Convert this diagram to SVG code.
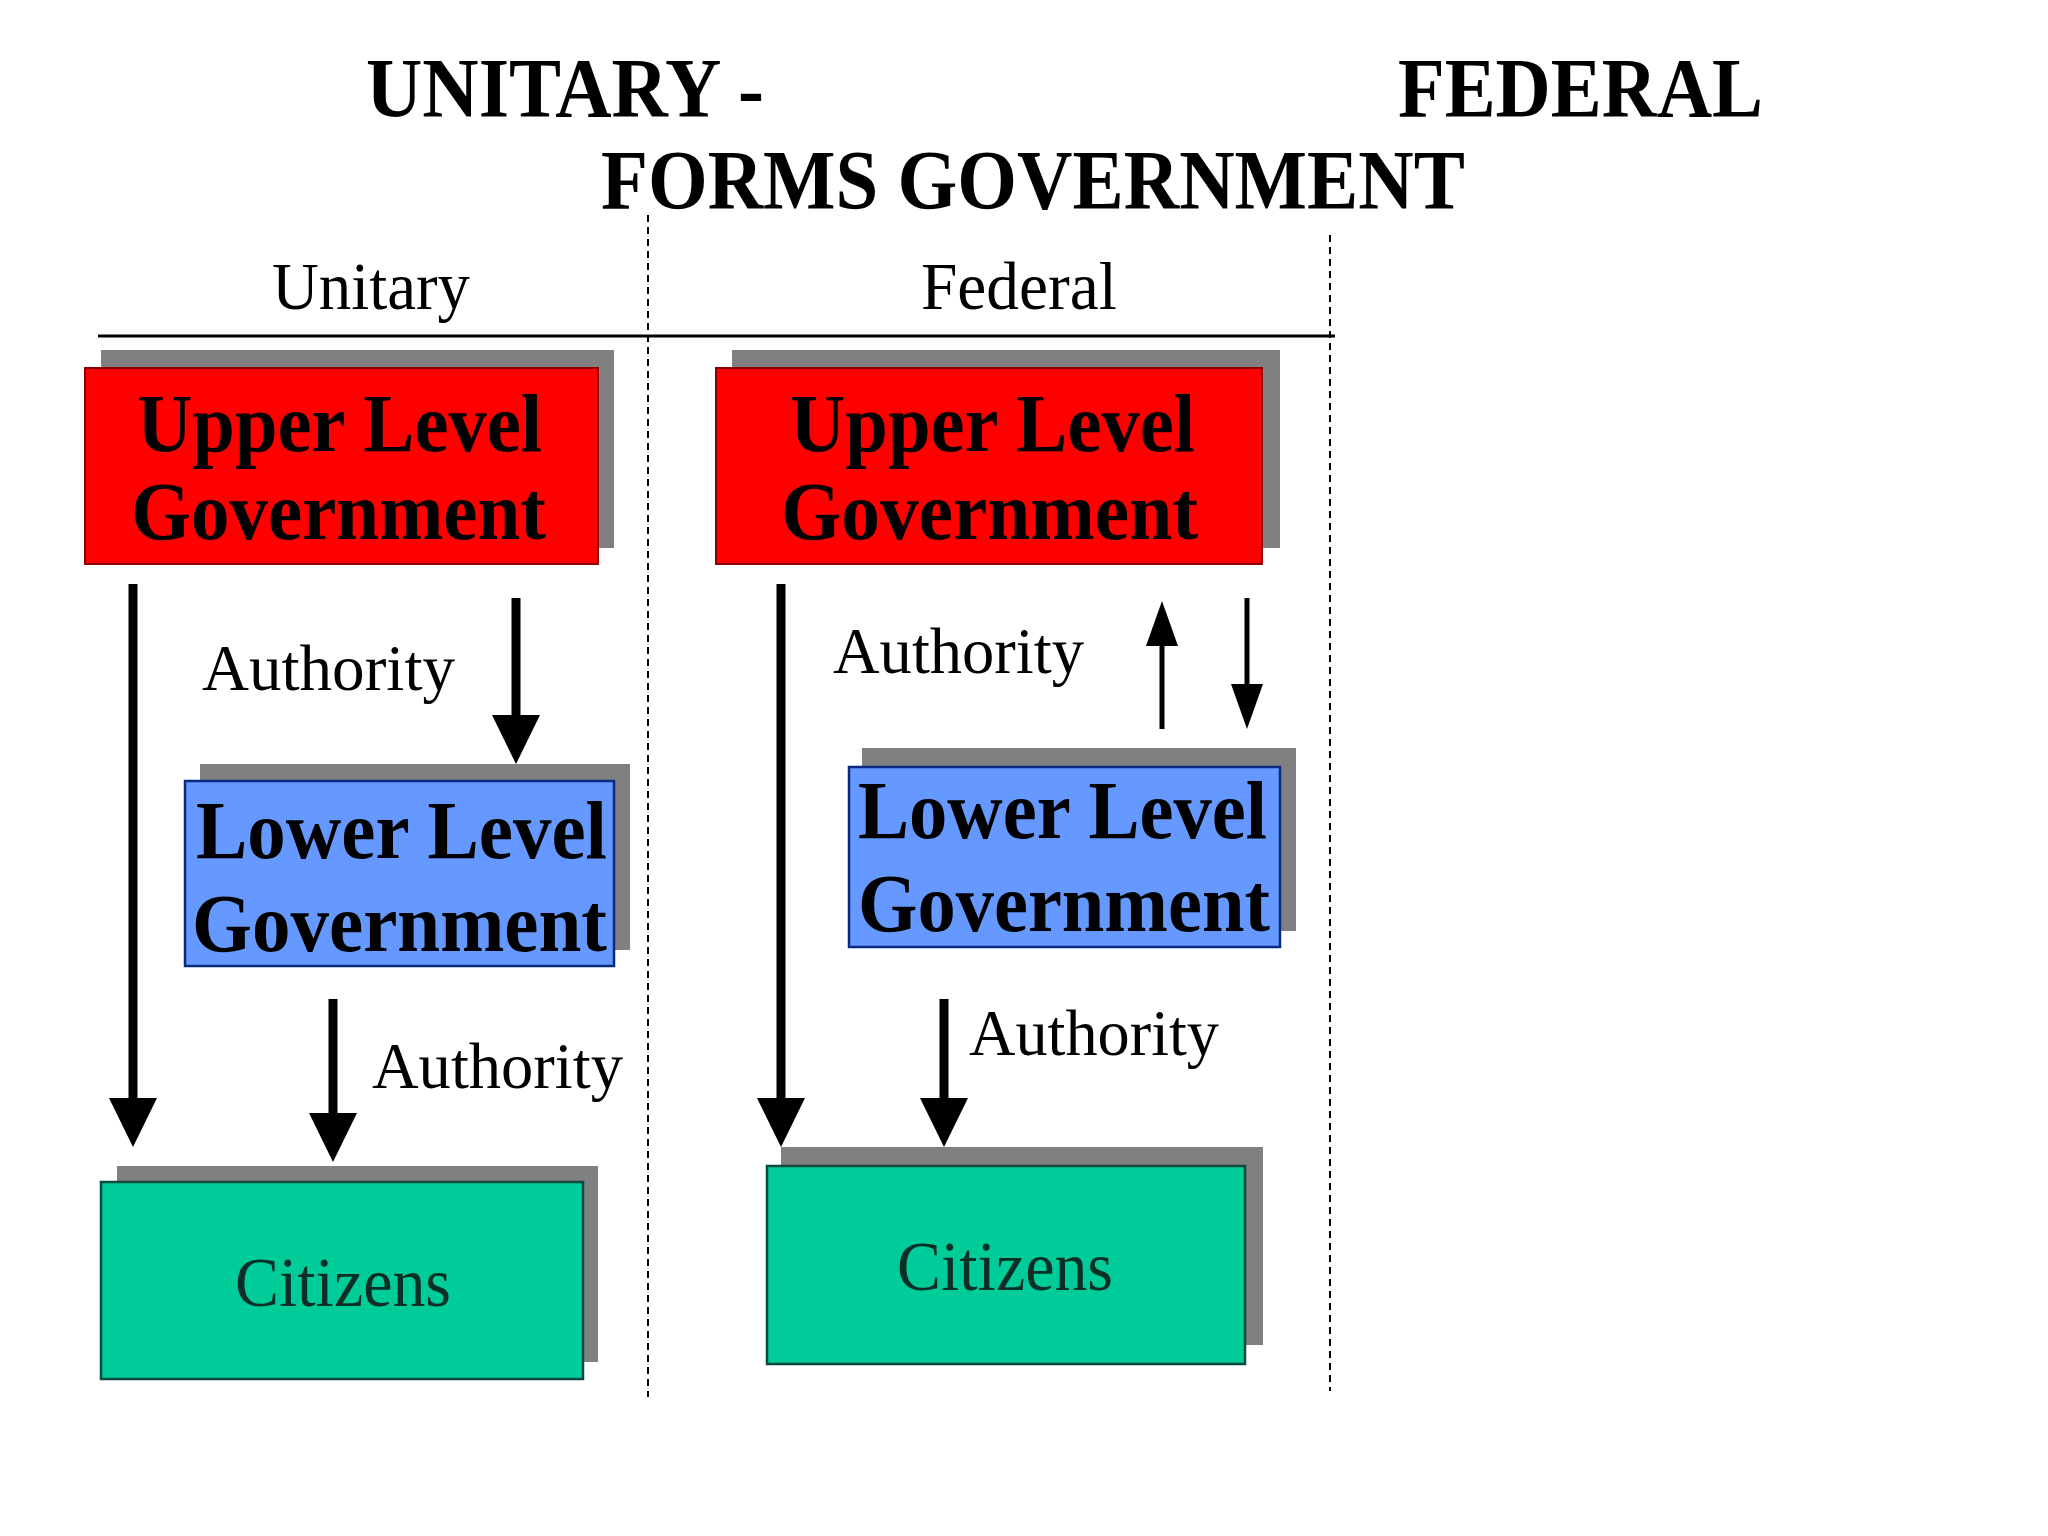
<svg xmlns="http://www.w3.org/2000/svg" width="2048" height="1536" viewBox="0 0 2048 1536">
<defs>
<style>
.title{font-family:"Liberation Serif","Times New Roman",serif;font-weight:bold;font-size:84px;fill:#000}
.col{font-family:"Liberation Serif","Times New Roman",serif;font-size:68px;fill:#000}
.box{font-family:"Liberation Serif","Times New Roman",serif;font-weight:bold;font-size:83px;fill:#000}
.lbl{font-family:"Liberation Serif","Times New Roman",serif;font-size:66px;fill:#000}
.cit{font-family:"Liberation Serif","Times New Roman",serif;font-size:70px;fill:#0b2e26}
.shadow{fill:#808080}
.red{fill:#ff0000;stroke:#8a0000;stroke-width:2}
.blue{fill:#6699ff;stroke:#0a2a80;stroke-width:2.5}
.green{fill:#00cc99;stroke:#0a4a40;stroke-width:2.5}
.thick{stroke:#000;stroke-width:9;fill:none}
.thin{stroke:#000;stroke-width:5;fill:none}
.dash{stroke:#000;stroke-width:2;stroke-dasharray:7 5;fill:none}
</style>
<marker id="big" markerUnits="userSpaceOnUse" viewBox="0 -25 50 50" refX="0" refY="0" markerWidth="50" markerHeight="50" orient="auto">
<path d="M0,-24 L49,0 L0,24 Z" fill="#000"/>
</marker>
<marker id="small" markerUnits="userSpaceOnUse" viewBox="0 -17 46 34" refX="0" refY="0" markerWidth="46" markerHeight="34" orient="auto">
<path d="M0,-16 L45,0 L0,16 Z" fill="#000"/>
</marker>
</defs>
<rect width="2048" height="1536" fill="#ffffff"/>

<g id="titles">
<text class="title" x="366" y="117" textLength="398" lengthAdjust="spacingAndGlyphs">UNITARY -</text>
<text class="title" x="1398" y="117" textLength="365" lengthAdjust="spacingAndGlyphs">FEDERAL</text>
<text class="title" x="601" y="209" textLength="864" lengthAdjust="spacingAndGlyphs">FORMS GOVERNMENT</text>
<text class="col" x="272" y="309" textLength="198" lengthAdjust="spacingAndGlyphs">Unitary</text>
<text class="col" x="921" y="309" textLength="196" lengthAdjust="spacingAndGlyphs">Federal</text>
</g>

<g id="frame">
<line x1="98" y1="336" x2="1335" y2="336" stroke="#000" stroke-width="3"/>
<line class="dash" x1="648" y1="215" x2="648" y2="1397"/>
<line class="dash" x1="1330" y1="235" x2="1330" y2="1391"/>
</g>

<g id="u-upper">
<rect class="shadow" x="101" y="350" width="513" height="198"/>
<rect class="red" x="85" y="368" width="513" height="196"/>
<text class="box" x="137" y="451" textLength="405" lengthAdjust="spacingAndGlyphs">Upper Level</text>
<text class="box" x="131" y="539" textLength="415" lengthAdjust="spacingAndGlyphs">Government</text>
</g>

<g id="u-lower">
<rect class="shadow" x="200" y="764" width="430" height="186"/>
<rect class="blue" x="185" y="781" width="429" height="185"/>
<text class="box" x="196" y="858" textLength="411" lengthAdjust="spacingAndGlyphs">Lower Level</text>
<text class="box" x="192" y="951" textLength="415" lengthAdjust="spacingAndGlyphs">Government</text>
</g>

<g id="u-citizens">
<rect class="shadow" x="117" y="1166" width="481" height="196"/>
<rect class="green" x="101" y="1182" width="482" height="197"/>
<text class="cit" x="235" y="1306" textLength="216" lengthAdjust="spacingAndGlyphs">Citizens</text>
</g>

<g id="f-upper">
<rect class="shadow" x="732" y="350" width="548" height="198"/>
<rect class="red" x="716" y="368" width="546" height="196"/>
<text class="box" x="790" y="451" textLength="405" lengthAdjust="spacingAndGlyphs">Upper Level</text>
<text class="box" x="781" y="539" textLength="417" lengthAdjust="spacingAndGlyphs">Government</text>
</g>

<g id="f-lower">
<rect class="shadow" x="862" y="748" width="434" height="183"/>
<rect class="blue" x="849" y="767" width="431" height="180"/>
<text class="box" x="858" y="838" textLength="409" lengthAdjust="spacingAndGlyphs">Lower Level</text>
<text class="box" x="858" y="931" textLength="412" lengthAdjust="spacingAndGlyphs">Government</text>
</g>

<g id="f-citizens">
<rect class="shadow" x="781" y="1147" width="482" height="198"/>
<rect class="green" x="767" y="1166" width="478" height="198"/>
<text class="cit" x="897" y="1290" textLength="216" lengthAdjust="spacingAndGlyphs">Citizens</text>
</g>

<g id="connectors">
<line class="thick" x1="133" y1="584" x2="133" y2="1098" marker-end="url(#big)"/>
<line class="thick" x1="516" y1="598" x2="516" y2="715" marker-end="url(#big)"/>
<line class="thick" x1="333" y1="999" x2="333" y2="1113" marker-end="url(#big)"/>
<line class="thick" x1="781" y1="584" x2="781" y2="1098" marker-end="url(#big)"/>
<line class="thin" x1="1162" y1="729" x2="1162" y2="646" marker-end="url(#small)"/>
<line class="thin" x1="1247" y1="598" x2="1247" y2="684" marker-end="url(#small)"/>
<line class="thick" x1="944" y1="999" x2="944" y2="1098" marker-end="url(#big)"/>
</g>

<g id="labels">
<text class="lbl" x="202" y="690" textLength="253" lengthAdjust="spacingAndGlyphs">Authority</text>
<text class="lbl" x="372" y="1088" textLength="251" lengthAdjust="spacingAndGlyphs">Authority</text>
<text class="lbl" x="833" y="673" textLength="251" lengthAdjust="spacingAndGlyphs">Authority</text>
<text class="lbl" x="969" y="1055" textLength="250" lengthAdjust="spacingAndGlyphs">Authority</text>
</g>
</svg>
